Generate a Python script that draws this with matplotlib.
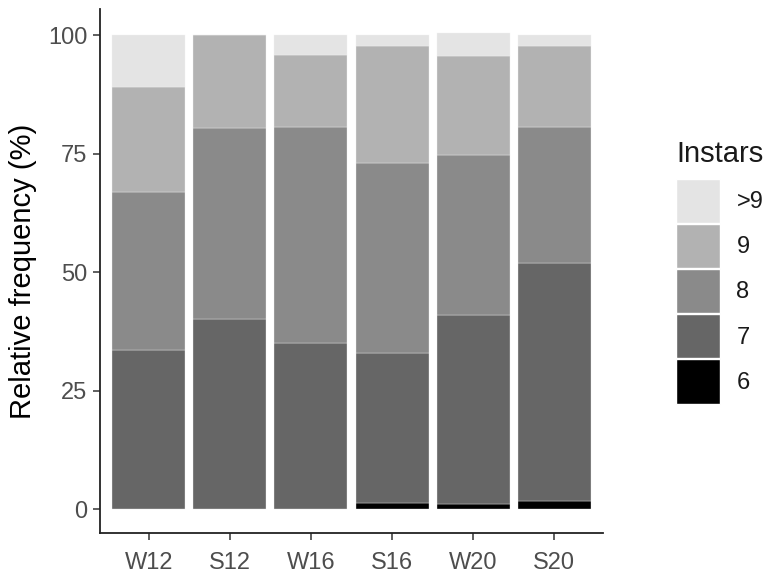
import matplotlib
matplotlib.use('Agg')
import matplotlib.pyplot as plt
from matplotlib.patches import Patch
import numpy as np

plt.rcParams['font.family'] = ['Liberation Sans', 'DejaVu Sans']

# Data (percent per instar class)
groups = ['W12', 'S12', 'W16', 'S16', 'W20', 'S20']
instars = ['6', '7', '8', '9', '>9']
pct_6 = [0.0, 0.0, 0.0, 1.4, 1.0, 1.8]
pct_7 = [33.5, 40.1, 35.1, 31.6, 40.0, 50.2]
pct_8 = [33.4, 40.2, 45.6, 40.1, 33.8, 28.7]
pct_9 = [22.2, 19.7, 15.2, 24.5, 20.7, 16.9]
pct_gt9 = [10.9, 0.0, 4.1, 2.4, 5.0, 2.4]

colors = ['#000000', '#666666', '#8a8a8a', '#b2b2b2', '#e4e4e4']

fig = plt.figure(figsize=(7.69, 5.79), dpi=100)
ax = fig.add_axes([100 / 769, 46 / 579, 503 / 769, 524 / 579])

x = np.arange(len(groups))
bottom = np.zeros(len(groups))
for vals, col in zip([pct_6, pct_7, pct_8, pct_9, pct_gt9], colors):
    vals = np.array(vals)
    ax.bar(x, vals, bottom=bottom, width=0.9, color=col,
           edgecolor='#f2f2f2', linewidth=0.25)
    bottom += vals

ax.set_xlim(-0.6, len(groups) - 0.4)
ax.set_ylim(-5.03, 105.5)
ax.set_xticks(x)
ax.set_xticklabels(groups)
ax.set_yticks([0, 25, 50, 75, 100])
ax.tick_params(axis='both', colors='#333333', labelcolor='#4d4d4d',
               labelsize=17, length=5, width=1.1)
ax.tick_params(axis='x', pad=9)
ax.tick_params(axis='y', pad=4)
ax.set_ylabel('Relative frequency (%)', fontsize=21, labelpad=8)

for s in ['top', 'right']:
    ax.spines[s].set_visible(False)
for s in ['left', 'bottom']:
    ax.spines[s].set_linewidth(1.3)
    ax.spines[s].set_color('#222222')

# Legend, top entry first; title drawn as separate text
handles = [Patch(facecolor=c, edgecolor='white', linewidth=1.0)
           for c in colors[::-1]]
leg = fig.legend(handles, instars[::-1],
                 loc='upper left', bbox_to_anchor=(676 / 769, 1 - 179 / 579),
                 frameon=False, fontsize=17,
                 handlelength=1.86, handleheight=2.5, labelspacing=0.04,
                 handletextpad=0.7, borderpad=0, borderaxespad=0)
for t in leg.get_texts():
    t.set_color('#1a1a1a')
fig.text(676 / 769, 1 - 162 / 579, 'Instars', fontsize=21,
         ha='left', va='baseline', color='#1a1a1a')

fig.savefig('out.png', dpi=100)
